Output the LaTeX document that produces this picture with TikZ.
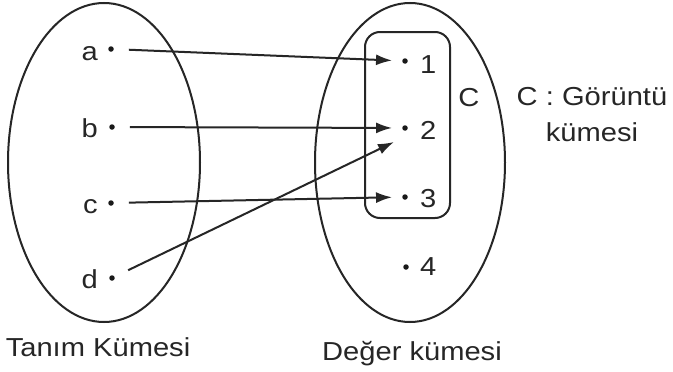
\documentclass[tikz,border=0pt]{standalone}
\usepackage{fontspec}
\setmainfont{Liberation Sans}[FakeStretch=1.12]
\usetikzlibrary{shapes.geometric,arrows.meta}
\begin{document}
\begin{tikzpicture}[x=1pt,y=-1pt,
  ink/.style={black!85},
  setell/.style={ink,draw,ellipse,line width=2pt,inner sep=0pt},
  pt/.style={circle,fill=black!90,inner sep=0pt,minimum size=5.5pt},
  lbl/.style={text=black!85,font=\fontsize{26}{31}\selectfont,inner sep=0pt},
  arr/.style={ink,line width=2pt,-{Latex[length=16pt,width=11pt]}}]
\useasboundingbox (0,0) rectangle (673,372);
\fill[white] (0,0) rectangle (673,372);
% sets
\node[setell,minimum width=192pt,minimum height=319pt] (A) at (104,162.5) {};
\node[setell,minimum width=190pt,minimum height=319pt] (B) at (410,162.5) {};
\node[ink,draw,line width=2pt,rounded corners=15pt,minimum width=85pt,minimum height=186pt,inner sep=0pt] (Cset) at (407.5,125) {};
% domain points
\node[pt] (pa) at (111,49) {};
\node[pt] (pb) at (112,127) {};
\node[pt] (pc) at (111,203) {};
\node[pt] (pd) at (112,278) {};
\node[lbl,anchor=base east] (la) at (98,60) {a};
\node[lbl,anchor=base east] (lb) at (98,137) {b};
\node[lbl,anchor=base east] (lc) at (98,213) {c};
\node[lbl,anchor=base east] (ld) at (98,288) {d};
% codomain points
\node[pt] (p1) at (405,61) {};
\node[pt] (p2) at (405,128) {};
\node[pt] (p3) at (405,197) {};
\node[pt] (p4) at (406,267) {};
\node[lbl,anchor=base west] (l1) at (420,73) {1};
\node[lbl,anchor=base west] (l2) at (420,139) {2};
\node[lbl,anchor=base west] (l3) at (420,207) {3};
\node[lbl,anchor=base west] (l4) at (420,275) {4};
% arrows
\coordinate (dt) at (394,142);
\draw[arr,shorten <=15pt,shorten >=10pt] (pa) -- (p1);
\draw[arr,shorten <=15pt,shorten >=10pt] (pb) -- (p2);
\draw[arr,shorten <=15pt,shorten >=10pt] (pc) -- (p3);
\draw[arr,shorten <=15pt] (pd) -- (dt);
% labels
\node[lbl,anchor=base] (cl) at (469,106) {C};
\node[lbl,anchor=base] (g1) at (592,105) {C : Görüntü};
\node[lbl,anchor=base] (g2) at (592,141) {kümesi};
\node[lbl,anchor=base] (tA) at (98,356) {Tanım Kümesi};
\node[lbl,anchor=base] (tB) at (412,360) {Değer kümesi};
\end{tikzpicture}
\end{document}
